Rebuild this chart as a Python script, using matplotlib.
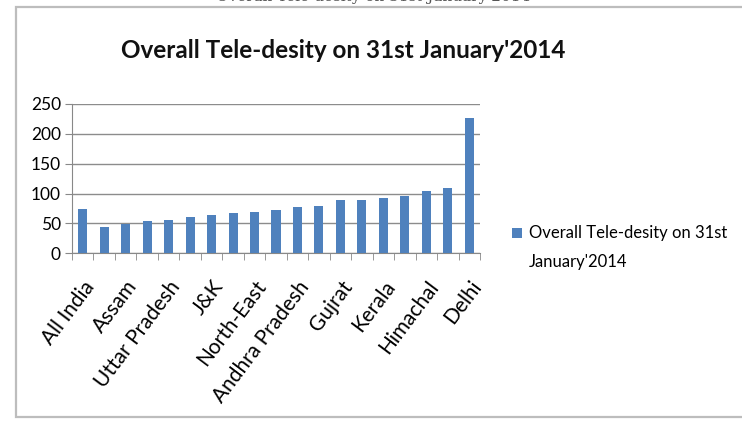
import matplotlib.pyplot as plt
from matplotlib.patches import Rectangle

# bars left to right; only every other category name is printed in the source
states = [
    "All India", "", "Assam", "", "Uttar Pradesh", "", "J&K", "", "North-East", "",
    "Andhra Pradesh", "", "Gujrat", "", "Kerala", "", "Himachal", "", "Delhi",
]
teledensity = [
    73.7, 44.0, 48.5, 54.7, 55.8, 60.3, 63.6, 67.0, 68.6, 73.1,
    78.0, 79.2, 88.7, 88.7, 92.6, 96.5, 104.9, 109.4, 227.0,
]
y_ticks = [0, 50, 100, 150, 200, 250]
series_name = "Overall Tele-desity on 31st\nJanuary'2014"
title = "Overall Tele-desity on 31st January'2014"

plt.rcParams["font.family"] = ["Lato", "DejaVu Sans"]

fig = plt.figure(figsize=(7.42, 4.21), dpi=100)

# chart frame
fig.patches.append(
    Rectangle((16 / 742, 4 / 421), 1.2, 410 / 421, transform=fig.transFigure,
              facecolor="white", edgecolor="#bdbdbd", linewidth=1.6, zorder=-1)
)
# clipped caption from the page above
fig.text(373 / 742, 1 + 3 / 421, title, ha="center", va="center", fontsize=11,
         family="DejaVu Serif", color="#555555")

ax = fig.add_axes([72 / 742, 1 - 253.3 / 421, 408 / 742, 149.3 / 421])
ax.set_facecolor("none")

positions = range(len(teledensity))
ax.bar(positions, teledensity, width=0.42, color="#4f81bd", zorder=3,
       label=series_name)

ax.set_xlim(-0.5, len(teledensity) - 0.5)
ax.set_ylim(0, 250)
ax.set_yticks(y_ticks)
ax.tick_params(axis="y", labelsize=12.5, length=5, color="#888888", pad=3)
ax.yaxis.grid(True, color="#8c8c8c", linewidth=1.0, zorder=0)

ax.set_xticks(list(positions))
ax.set_xticklabels(states, rotation=53, ha="right", rotation_mode="anchor",
                   fontsize=15)
ax.tick_params(axis="x", which="major", length=0, pad=17)
ax.tick_params(axis="x", which="minor", length=5, color="#888888")
ax.set_xticks([-0.5] + [p + 0.5 for p in positions], minor=True)

for side in ["top", "right"]:
    ax.spines[side].set_visible(False)
ax.spines["left"].set_color("#888888")
ax.spines["bottom"].set_color("#888888")

fig.text(343 / 742, 1 - 51 / 421, title, ha="center", va="center",
         fontsize=17.5, fontweight="bold", color="#111111")

leg = ax.legend(loc="upper left", bbox_to_anchor=(497 / 742, 1 - 210 / 421),
                bbox_transform=fig.transFigure, frameon=False, fontsize=12,
                handlelength=0.6, handleheight=0.6, handletextpad=0.4)
for text in leg.get_texts():
    text.set_linespacing(2.0)
# keep the marker next to the first line, as in the source
handle = leg.legend_handles[0]
handle.set_y(handle.get_y() + 11)

fig.savefig("out.png", dpi=100)
